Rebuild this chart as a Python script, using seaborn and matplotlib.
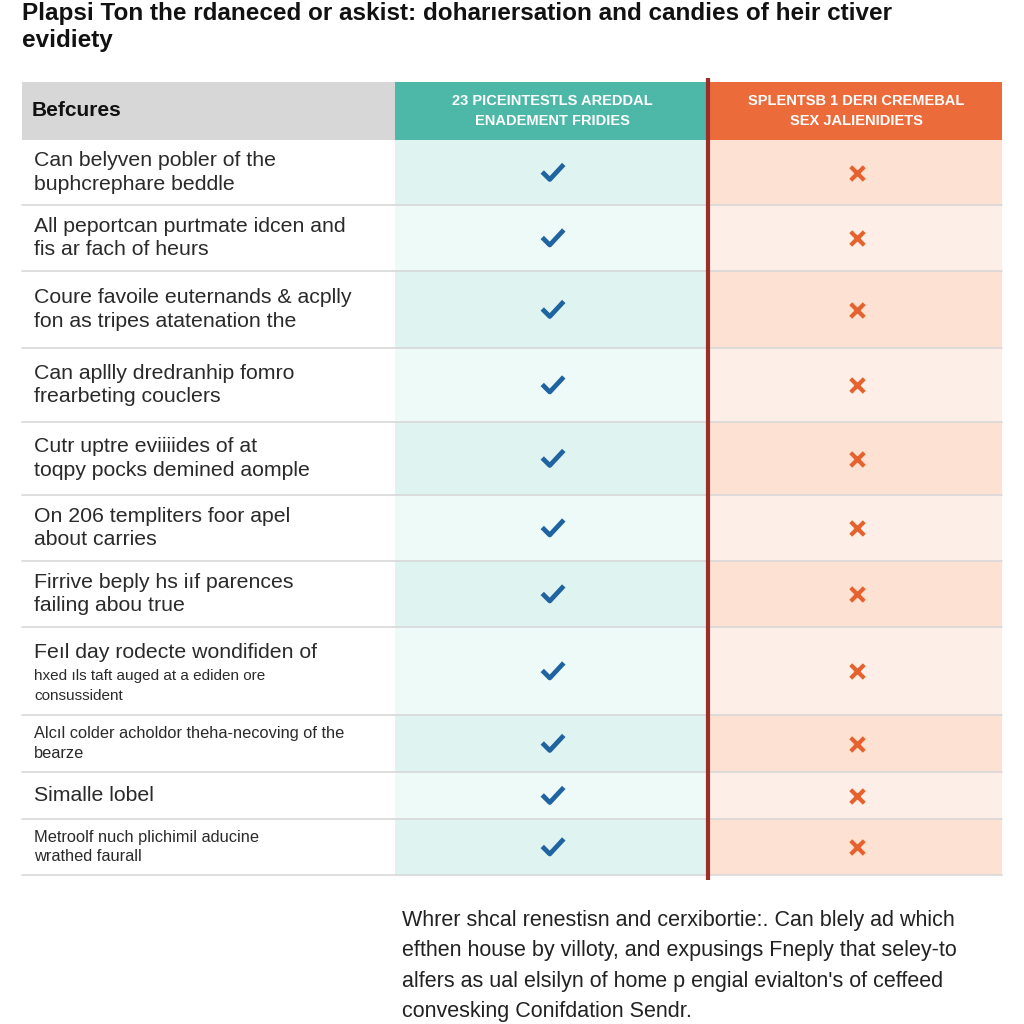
import numpy as np
import pandas as pd
import matplotlib.pyplot as plt
import seaborn as sns
from matplotlib.path import Path
from matplotlib.markers import MarkerStyle
from matplotlib.patches import Rectangle

sns.set_theme(style='white')
plt.rcParams['font.family'] = ['Liberation Sans', 'DejaVu Sans']

# ---- data ----
title = ("Plapsi Ton the rdaneced or askist: doharıersation and candies of heir ctiver\n"
         "evidiety")
feature_header = "Befcures"
col_headers = ["23 PICEINTESTLS AREDDAL\nENADEMENT FRIDIES",
               "SPLENTSB 1 DERI CREMEBAL\nSEX JALIENIDIETS"]
features = [
    "Can belyven pobler of the\nbuphcrephare beddle",
    "All peportcan purtmate idcen and\nfis ar fach of heurs",
    "Coure favoile euternands & acplly\nfon as tripes atatenation the",
    "Can apllly dredranhip fomro\nfrearbeting couclers",
    "Cutr uptre eviiiides of at\ntoqpy pocks demined aomple",
    "On 206 templiters foor apel\nabout carries",
    "Firrive beply hs iıf parences\nfailing abou true",
    "Feıl day rodecte wondifiden of",
    "Alcıl colder acholdor theha-necoving of the\nbearze",
    "Simalle lobel",
    "Metroolf nuch plichimil aducine\nwrathed faurall",
]
sub_notes = {7: "hxed ıls taft auged at a ediden ore\nconsussident"}
small_rows = [8, 10]
col_a = [True] * len(features)
col_b = [False] * len(features)
footer = ("Whrer shcal renestisn and cerxibortie:. Can blely ad which\n"
          "efthen house by villoty, and expusings Fneply that seley-to\n"
          "alfers as ual elsilyn of home p engial evialton's of ceffeed\n"
          "convesking Conifdation Sendr.")

# ---- layout (pixels) ----
row_edges = [140, 205, 271, 348, 422, 495, 561, 627, 715, 772, 819, 875]
left, c1, c2, right = 22, 395, 710, 1002
head_top = 82

teal, teal_d, teal_l = '#4db8a8', '#dff4f1', '#eefaf8'
orange, orange_d, orange_l = '#ec6b3b', '#fde1d3', '#fdefe7'

fig = plt.figure(figsize=(10.24, 10.24), dpi=100)
ax = fig.add_axes([0, 0, 1, 1])
ax.set_xlim(0, 1024)
ax.set_ylim(1024, 0)
ax.axis('off')

# title
ax.text(22, 27, title, fontsize=17.5, fontweight='bold', va='center', ha='left',
        color='#111111', linespacing=1.2)

# header
ax.add_patch(Rectangle((left, head_top), c1 - left, row_edges[0] - head_top, color='#d7d7d7', lw=0))
ax.add_patch(Rectangle((c1, head_top), c2 - c1, row_edges[0] - head_top, color=teal, lw=0))
ax.add_patch(Rectangle((c2, head_top), right - c2, row_edges[0] - head_top, color=orange, lw=0))
hy = (head_top + row_edges[0]) / 2
ax.text(32, hy, feature_header, fontsize=15, fontweight='bold', va='center', color='#111111')
ax.text((c1 + c2) / 2, hy, col_headers[0], fontsize=10.5, fontweight='bold', color='white',
        ha='center', va='center', linespacing=1.5)
ax.text((c2 + right) / 2, hy, col_headers[1], fontsize=10.5, fontweight='bold', color='white',
        ha='center', va='center', linespacing=1.5)

# body rows
centers = []
for i, label in enumerate(features):
    y0, y1 = row_edges[i], row_edges[i + 1]
    cy = (y0 + y1) / 2
    centers.append(cy)
    ax.add_patch(Rectangle((c1, y0), c2 - c1, y1 - y0, color=teal_d if i % 2 == 0 else teal_l, lw=0))
    ax.add_patch(Rectangle((c2, y0), right - c2, y1 - y0, color=orange_d if i % 2 == 0 else orange_l, lw=0))
    ax.plot([left, right], [y1, y1], color='#d8d8d8', lw=1.2)
    if i in sub_notes:
        ax.text(34, y0 + 25, label, fontsize=15.3, va='center', color='#2a2a2a')
        ax.text(34, y0 + 59, sub_notes[i], fontsize=11, va='center', color='#2a2a2a', linespacing=1.5)
    else:
        fs = 11.8 if i in small_rows else 15.3
        ax.text(34, cy, label, fontsize=fs, va='center', color='#2a2a2a',
                linespacing=1.3 if i not in small_rows else 1.4)

# divider
ax.plot([708, 708], [78, 880], color='#9a2f2a', lw=3, solid_capstyle='butt')

# check / cross marks
check = MarkerStyle(Path([(-1.0, 0.05), (-0.3, -0.65), (1.0, 0.75)],
                         [Path.MOVETO, Path.LINETO, Path.LINETO]), fillstyle='none')
marks = pd.DataFrame({'y': centers, 'a': col_a, 'b': col_b})
sns.scatterplot(x=[553] * int(marks['a'].sum()), y=marks.loc[marks['a'], 'y'], marker=check,
                s=240, color='#1f63a0', linewidth=3.4, ax=ax, legend=False)
sns.scatterplot(x=[857] * int((~marks['b']).sum()), y=marks.loc[~marks['b'], 'y'], marker='x',
                s=95, color='#e5622f', linewidth=3.0, ax=ax, legend=False)
ax.set_xlim(0, 1024)
ax.set_ylim(1024, 0)
ax.axis('off')

# footer note
ax.text(402, 966, footer, fontsize=15.5, va='center', ha='left', color='#222222', linespacing=1.6)

fig.savefig('out.png', dpi=100, facecolor='white')
